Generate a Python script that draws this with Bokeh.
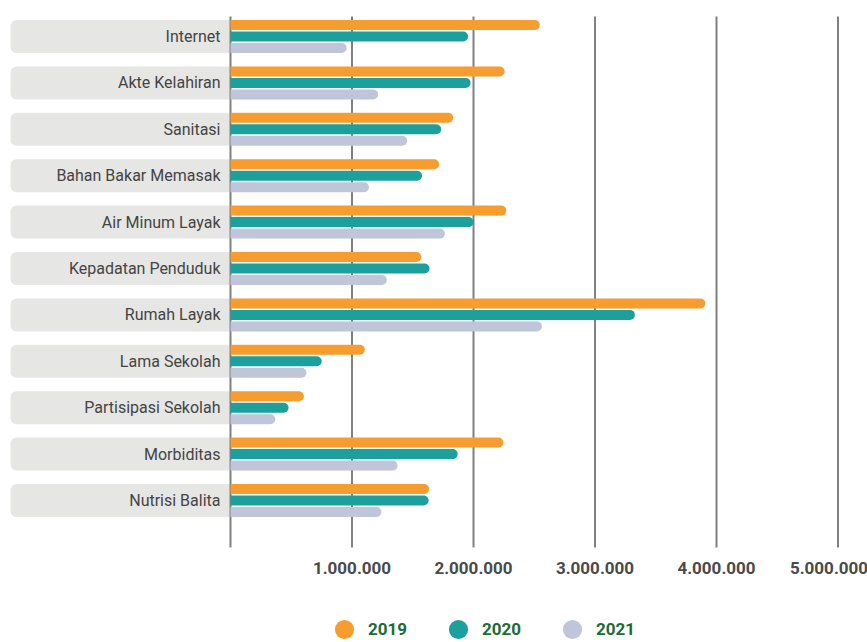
from bokeh.plotting import figure
from bokeh.models import Range1d, ColumnDataSource, Legend, LegendItem
from bokeh.core.properties import value
from bokeh.embed import file_html
from bokeh.resources import INLINE

# ---------------- data ----------------
categories = ["Internet", "Akte Kelahiran", "Sanitasi", "Bahan Bakar Memasak",
              "Air Minum Layak", "Kepadatan Penduduk", "Rumah Layak", "Lama Sekolah",
              "Partisipasi Sekolah", "Morbiditas", "Nutrisi Balita"]
v2019 = [2546000, 2256000, 1833000, 1717000, 2270000, 1570000, 3908000, 1106000, 604000, 2246000, 1635000]
v2020 = [1956000, 1976000, 1734000, 1577000, 2000000, 1638000, 3328000, 751000, 478000, 1870000, 1631000]
v2021 = [956000, 1215000, 1454000, 1140000, 1765000, 1287000, 2563000, 625000, 369000, 1375000, 1242000]
series_names = ["2019", "2020", "2021"]
tick_values = [1000000, 2000000, 3000000, 4000000, 5000000]
tick_labels = ["1.000.000", "2.000.000", "3.000.000", "4.000.000", "5.000.000"]

# ---------------- layout constants ----------------
W, H = 867, 642
X0_PX = 230.0            # pixel of value 0
PX_PER_UNIT = 121.5 / 1e6
Y0_PX = 36.0             # pixel centre of first group
GROUP_PX = 46.4          # pixel distance between groups
n = len(categories)

def xd(px):
    return (px - X0_PX) / PX_PER_UNIT

def yd(px):
    return (n - 1) + (Y0_PX - px) / GROUP_PX

def hd(px):
    return px / GROUP_PX

colors = ["#F79C2E", "#1DA09C", "#C0C6D9"]
FONT = "Roboto"

p = figure(width=W, height=H, x_range=Range1d(xd(0), xd(W)), y_range=Range1d(yd(H), yd(0)),
           x_axis_location=None, y_axis_location=None, toolbar_location=None,
           output_backend="svg", min_border=0, outline_line_color=None)
p.grid.visible = False
p.background_fill_color = "white"
p.border_fill_color = "white"

centers = [(n - 1) - k for k in range(n)]

# label boxes
box_src = ColumnDataSource(dict(y=centers, cat=categories))
p.hbar(y="y", left=xd(10), right=0, height=hd(33), source=box_src,
       fill_color="#E6E6E5", line_color=None, border_radius=(6, 0, 0, 6))

# grid lines (including the zero line)
grid_x = [0] + tick_values
p.segment(x0=grid_x, x1=grid_x, y0=[yd(16)] * len(grid_x), y1=[yd(547)] * len(grid_x),
          line_color="#808080", line_width=2)

# bars
offsets_px = [-11.5, 0, 11.5]
for vals, col, off in zip([v2019, v2020, v2021], colors, offsets_px):
    src = ColumnDataSource(dict(y=[c - hd(off) for c in centers], v=vals))
    p.hbar(y="y", left=0, right="v", height=hd(10), source=src,
           fill_color=col, line_color=None, border_radius=(0, 5, 5, 0))

# category labels
p.text(x=xd(220), y="y", text="cat", source=box_src, text_align="right",
       text_baseline="middle", text_font=value(FONT), text_font_size="16px",
       text_color="#444444")

# tick labels (last one pulled in to stay inside the canvas)
tick_src = ColumnDataSource(dict(x=tick_values, t=tick_labels,
                                 xo=[0] * (len(tick_values) - 1) + [-9]))
p.text(x="x", y=yd(567), text="t", x_offset="xo", source=tick_src,
       text_align="center", text_baseline="middle", text_font=value(FONT),
       text_font_size="17px", text_font_style="bold", text_color="#4a4a4a")

# legend (marker renderers kept off-canvas; only their legend glyphs show)
items = []
for name, col in zip(series_names, colors):
    r = p.scatter(x=[xd(-200)], y=[yd(-200)], marker="circle", size=19,
                  fill_color=col, line_color=None)
    items.append(LegendItem(label=name, renderers=[r]))
legend = Legend(items=items, orientation="horizontal", location=(320, -11),
                label_text_font=FONT, label_text_font_style="bold",
                label_text_color="#1E6B35", label_text_font_size="17px",
                glyph_width=48, glyph_height=48, label_standoff=0, spacing=27,
                padding=0, margin=0, border_line_color=None, background_fill_alpha=0)
p.add_layout(legend)

open("out.html", "w").write(file_html(p, INLINE))
